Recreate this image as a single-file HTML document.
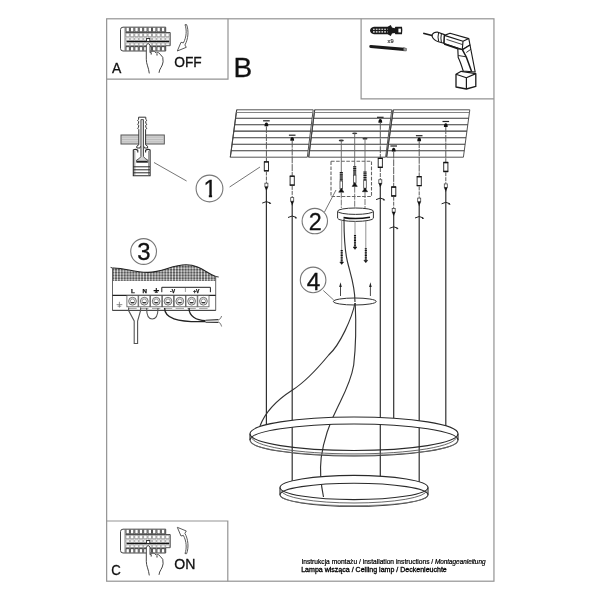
<!DOCTYPE html>
<html lang="pl"><head><meta charset="utf-8"><title>Instrukcja montażu</title>
<style>html,body{margin:0;padding:0;background:#fff;overflow:hidden}svg{display:block;filter:blur(0.45px)}</style></head>
<body><svg width="600" height="600" viewBox="0 0 600 600">
<rect width="600" height="600" fill="#fff"/>
<g fill="none" stroke="#939393" stroke-width="1.2">
<rect x="106.65" y="18.8" width="387.3" height="562.4"/>
<path d="M106.65 79.1H228V18.8"/>
<path d="M361.1 18.8V98.9H493.95"/>
<path d="M106.65 521H227.8V581.2"/>
</g>
<g font-family="'Liberation Sans', Arial, sans-serif" fill="#111" stroke="#111" stroke-width="0.3">
<text transform="translate(111.9 72.8) scale(0.93 1)" font-size="15">A</text>
<text transform="translate(174.2 67.15) scale(0.955 1)" font-size="14.4">OFF</text>
<text x="233.4" y="76.9" font-size="28">B</text>
<text transform="translate(111.3 575.3) scale(0.93 1)" font-size="14.2">C</text>
<text x="174.3" y="568.7" font-size="14.1">ON</text>
</g>
<g fill="none">
<path d="M236.7 109.8H313.2L307.3 157.2H230.3Z" fill="#fff" stroke="#555" stroke-width="1"/><path d="M230.3 157.2L236.7 109.8" stroke="#444" stroke-width="1.1"/><path d="M236.3 112.5H312.9" stroke="#777" stroke-width="0.9"/><path d="M235.6 118.3H312.1" stroke="#3a3a3a" stroke-width="1.1"/><path d="M234.7 124.8H311.3" stroke="#3a3a3a" stroke-width="1.1"/><path d="M233.8 131.1H310.5" stroke="#3a3a3a" stroke-width="1.1"/><path d="M232.9 137.8H309.7" stroke="#3a3a3a" stroke-width="1.1"/><path d="M232.0 144.3H308.9" stroke="#3a3a3a" stroke-width="1.1"/><path d="M231.2 150.8H308.1" stroke="#3a3a3a" stroke-width="1.1"/>
<path d="M314.7 109.8H391.8L385.6 157.2H308.7Z" fill="#fff" stroke="#555" stroke-width="1"/><path d="M308.7 157.2L314.7 109.8" stroke="#444" stroke-width="1.1"/><path d="M314.4 112.5H391.4" stroke="#777" stroke-width="0.9"/><path d="M313.6 118.3H390.7" stroke="#3a3a3a" stroke-width="1.1"/><path d="M312.8 124.8H389.8" stroke="#3a3a3a" stroke-width="1.1"/><path d="M312.0 131.1H389.0" stroke="#3a3a3a" stroke-width="1.1"/><path d="M311.2 137.8H388.1" stroke="#3a3a3a" stroke-width="1.1"/><path d="M310.3 144.3H387.3" stroke="#3a3a3a" stroke-width="1.1"/><path d="M309.5 150.8H386.4" stroke="#3a3a3a" stroke-width="1.1"/>
<path d="M393.2 109.8H469.8L463.4 157.2H386.6Z" fill="#fff" stroke="#555" stroke-width="1"/><path d="M386.6 157.2L393.2 109.8" stroke="#444" stroke-width="1.1"/><path d="M392.8 112.5H469.4" stroke="#777" stroke-width="0.9"/><path d="M392.0 118.3H468.7" stroke="#3a3a3a" stroke-width="1.1"/><path d="M391.1 124.8H467.8" stroke="#3a3a3a" stroke-width="1.1"/><path d="M390.2 131.1H466.9" stroke="#3a3a3a" stroke-width="1.1"/><path d="M389.3 137.8H466.0" stroke="#3a3a3a" stroke-width="1.1"/><path d="M388.4 144.3H465.1" stroke="#3a3a3a" stroke-width="1.1"/><path d="M387.5 150.8H464.3" stroke="#3a3a3a" stroke-width="1.1"/>
</g>
<g id="wires">
<path d="M263.09999999999997 120.8H269.7" stroke="#222" stroke-width="1.2" fill="none"/>
<path d="M264.5 126.3Q264.5 122.6 266.4 122.6Q268.29999999999995 122.6 268.29999999999995 126.3Z" fill="#111"/>
<path d="M266.4 126.3V161.5" stroke="#5a5a5a" stroke-width="1" stroke-dasharray="7 0.8" fill="none"/>
<rect x="264.29999999999995" y="161.9" width="4.2" height="8.8" fill="#fff" stroke="#333" stroke-width="1"/>
<path d="M264.0 161.8h4.8M264.0 170.8h4.8" stroke="#111" stroke-width="1.3" fill="none"/>
<path d="M266.4 171.5V183.0" stroke="#5a5a5a" stroke-width="1" stroke-dasharray="4 1" fill="none"/>
<rect x="264.9" y="183.2" width="3" height="3.6" fill="#fff" stroke="#444" stroke-width="0.8"/>
<path d="M264.7 186.8L266.4 191.5L268.09999999999997 186.8Z" fill="#111"/>
<path d="M266.4 189.5V425.0" stroke="#303030" stroke-width="1.2" fill="none"/>
<path d="M262.2 203.1Q266.4 200.1 270.59999999999997 203.1" stroke="#222" stroke-width="1" fill="none"/>
<path d="M271.4 203.8l-2.4 -1.8l0.3 2z" fill="#222"/>
<path d="M288.9 135.2H295.5" stroke="#222" stroke-width="1.2" fill="none"/>
<path d="M290.3 140.7Q290.3 137.0 292.2 137.0Q294.09999999999997 137.0 294.09999999999997 140.7Z" fill="#111"/>
<path d="M292.2 140.7V175.89999999999998" stroke="#5a5a5a" stroke-width="1" stroke-dasharray="7 0.8" fill="none"/>
<rect x="290.09999999999997" y="176.29999999999998" width="4.2" height="8.8" fill="#fff" stroke="#333" stroke-width="1"/>
<path d="M289.8 176.2h4.8M289.8 185.2h4.8" stroke="#111" stroke-width="1.3" fill="none"/>
<path d="M292.2 185.89999999999998V197.39999999999998" stroke="#5a5a5a" stroke-width="1" stroke-dasharray="4 1" fill="none"/>
<rect x="290.7" y="197.59999999999997" width="3" height="3.6" fill="#fff" stroke="#444" stroke-width="0.8"/>
<path d="M290.5 201.2L292.2 205.89999999999998L293.9 201.2Z" fill="#111"/>
<path d="M292.2 203.89999999999998V481.1" stroke="#303030" stroke-width="1.2" fill="none"/>
<path d="M288.0 217.49999999999997Q292.2 214.49999999999997 296.4 217.49999999999997" stroke="#222" stroke-width="1" fill="none"/>
<path d="M297.2 218.2l-2.4 -1.8l0.3 2z" fill="#222"/>
<path d="M377.0 117.3H383.6" stroke="#222" stroke-width="1.2" fill="none"/>
<path d="M378.40000000000003 122.8Q378.40000000000003 119.1 380.3 119.1Q382.2 119.1 382.2 122.8Z" fill="#111"/>
<path d="M380.3 122.8V158.0" stroke="#5a5a5a" stroke-width="1" stroke-dasharray="7 0.8" fill="none"/>
<rect x="378.2" y="158.4" width="4.2" height="8.8" fill="#fff" stroke="#333" stroke-width="1"/>
<path d="M377.90000000000003 158.3h4.8M377.90000000000003 167.3h4.8" stroke="#111" stroke-width="1.3" fill="none"/>
<path d="M380.3 168.0V179.5" stroke="#5a5a5a" stroke-width="1" stroke-dasharray="4 1" fill="none"/>
<rect x="378.8" y="179.7" width="3" height="3.6" fill="#fff" stroke="#444" stroke-width="0.8"/>
<path d="M378.6 183.3L380.3 188.0L382.0 183.3Z" fill="#111"/>
<path d="M380.3 186.0V476.5" stroke="#303030" stroke-width="1.2" fill="none"/>
<path d="M376.1 199.6Q380.3 196.6 384.5 199.6" stroke="#222" stroke-width="1" fill="none"/>
<path d="M385.3 200.3l-2.4 -1.8l0.3 2z" fill="#222"/>
<path d="M390.4 146.0H397.0" stroke="#222" stroke-width="1.2" fill="none"/>
<path d="M391.8 151.5Q391.8 147.8 393.7 147.8Q395.59999999999997 147.8 395.59999999999997 151.5Z" fill="#111"/>
<path d="M393.7 151.5V186.7" stroke="#5a5a5a" stroke-width="1" stroke-dasharray="7 0.8" fill="none"/>
<rect x="391.59999999999997" y="187.1" width="4.2" height="8.8" fill="#fff" stroke="#333" stroke-width="1"/>
<path d="M391.3 187.0h4.8M391.3 196.0h4.8" stroke="#111" stroke-width="1.3" fill="none"/>
<path d="M393.7 196.7V208.2" stroke="#5a5a5a" stroke-width="1" stroke-dasharray="4 1" fill="none"/>
<rect x="392.2" y="208.39999999999998" width="3" height="3.6" fill="#fff" stroke="#444" stroke-width="0.8"/>
<path d="M392.0 212.0L393.7 216.7L395.4 212.0Z" fill="#111"/>
<path d="M393.7 214.7V418.6" stroke="#303030" stroke-width="1.2" fill="none"/>
<path d="M389.5 228.29999999999998Q393.7 225.29999999999998 397.9 228.29999999999998" stroke="#222" stroke-width="1" fill="none"/>
<path d="M398.7 229.0l-2.4 -1.8l0.3 2z" fill="#222"/>
<path d="M415.9 135.7H422.5" stroke="#222" stroke-width="1.2" fill="none"/>
<path d="M417.3 141.2Q417.3 137.5 419.2 137.5Q421.09999999999997 137.5 421.09999999999997 141.2Z" fill="#111"/>
<path d="M419.2 141.2V176.39999999999998" stroke="#5a5a5a" stroke-width="1" stroke-dasharray="7 0.8" fill="none"/>
<rect x="417.09999999999997" y="176.79999999999998" width="4.2" height="8.8" fill="#fff" stroke="#333" stroke-width="1"/>
<path d="M416.8 176.7h4.8M416.8 185.7h4.8" stroke="#111" stroke-width="1.3" fill="none"/>
<path d="M419.2 186.39999999999998V197.89999999999998" stroke="#5a5a5a" stroke-width="1" stroke-dasharray="4 1" fill="none"/>
<rect x="417.7" y="198.09999999999997" width="3" height="3.6" fill="#fff" stroke="#444" stroke-width="0.8"/>
<path d="M417.5 201.7L419.2 206.39999999999998L420.9 201.7Z" fill="#111"/>
<path d="M419.2 204.39999999999998V482.1" stroke="#303030" stroke-width="1.2" fill="none"/>
<path d="M415.0 217.99999999999997Q419.2 214.99999999999997 423.4 217.99999999999997" stroke="#222" stroke-width="1" fill="none"/>
<path d="M424.2 218.7l-2.4 -1.8l0.3 2z" fill="#222"/>
<path d="M442.5 121.5H449.1" stroke="#222" stroke-width="1.2" fill="none"/>
<path d="M443.90000000000003 127Q443.90000000000003 123.3 445.8 123.3Q447.7 123.3 447.7 127Z" fill="#111"/>
<path d="M445.8 127V162.2" stroke="#5a5a5a" stroke-width="1" stroke-dasharray="7 0.8" fill="none"/>
<rect x="443.7" y="162.6" width="4.2" height="8.8" fill="#fff" stroke="#333" stroke-width="1"/>
<path d="M443.40000000000003 162.5h4.8M443.40000000000003 171.5h4.8" stroke="#111" stroke-width="1.3" fill="none"/>
<path d="M445.8 172.2V183.7" stroke="#5a5a5a" stroke-width="1" stroke-dasharray="4 1" fill="none"/>
<rect x="444.3" y="183.89999999999998" width="3" height="3.6" fill="#fff" stroke="#444" stroke-width="0.8"/>
<path d="M444.1 187.5L445.8 192.2L447.5 187.5Z" fill="#111"/>
<path d="M445.8 190.2V426.2" stroke="#303030" stroke-width="1.2" fill="none"/>
<path d="M441.6 203.79999999999998Q445.8 200.79999999999998 450.0 203.79999999999998" stroke="#222" stroke-width="1" fill="none"/>
<path d="M450.8 204.5l-2.4 -1.8l0.3 2z" fill="#222"/>
</g>
<g id="dbox">
<rect x="331" y="161.2" width="40.5" height="35.3" fill="none" stroke="#666" stroke-width="1.1" stroke-dasharray="3.6 1.5"/>
<ellipse cx="341.3" cy="140.5" rx="2.6" ry="0.9" fill="#333"/>
<path d="M341.3 140.5V172" stroke="#666" stroke-width="0.9" fill="none"/>
<rect x="339.8" y="172" width="3" height="9" fill="#999"/>
<path d="M341.3 172v9" stroke="#1a1a1a" stroke-width="3" stroke-dasharray="1 0.8" fill="none"/>
<rect x="340.0" y="181" width="2.6" height="8" fill="#fff" stroke="#444" stroke-width="0.8"/>
<path d="M338.7 192.2L341.3 188.2L343.90000000000003 192.2Z" fill="#111" stroke="#111" stroke-width="0.5"/>
<path d="M341.3 192.5V208" stroke="#666" stroke-width="0.9" stroke-dasharray="6 1" fill="none"/>
<ellipse cx="354.7" cy="133.3" rx="2.6" ry="0.9" fill="#333"/>
<path d="M354.7 133.3V166.2" stroke="#666" stroke-width="0.9" fill="none"/>
<rect x="353.2" y="166.2" width="3" height="9" fill="#999"/>
<path d="M354.7 166.2v9" stroke="#1a1a1a" stroke-width="3" stroke-dasharray="1 0.8" fill="none"/>
<rect x="353.4" y="175.2" width="2.6" height="8" fill="#fff" stroke="#444" stroke-width="0.8"/>
<path d="M352.09999999999997 186.39999999999998L354.7 182.39999999999998L357.3 186.39999999999998Z" fill="#111" stroke="#111" stroke-width="0.5"/>
<path d="M354.7 186.7V208" stroke="#666" stroke-width="0.9" stroke-dasharray="6 1" fill="none"/>
<ellipse cx="365" cy="138.7" rx="2.6" ry="0.9" fill="#333"/>
<path d="M365 138.7V171.5" stroke="#666" stroke-width="0.9" fill="none"/>
<rect x="363.5" y="171.5" width="3" height="9" fill="#999"/>
<path d="M365 171.5v9" stroke="#1a1a1a" stroke-width="3" stroke-dasharray="1 0.8" fill="none"/>
<rect x="363.7" y="180.5" width="2.6" height="8" fill="#fff" stroke="#444" stroke-width="0.8"/>
<path d="M362.4 191.7L365 187.7L367.6 191.7Z" fill="#111" stroke="#111" stroke-width="0.5"/>
<path d="M365 192.0V208" stroke="#666" stroke-width="0.9" stroke-dasharray="6 1" fill="none"/>
</g>
<g id="canopy">
<path d="M337.6 211.2V218.2A17.9 3.2 0 0 0 373.4 218.2V211.2" fill="#fff" stroke="#333" stroke-width="1"/>
<ellipse cx="355.5" cy="211.2" rx="17.9" ry="3.2" fill="#fff" stroke="#333" stroke-width="1"/>
<path d="M343.5 217.6Q356 219.6 370 217.3" stroke="#111" stroke-width="1.6" fill="none"/>
<path d="M355 221V235" stroke="#777" stroke-width="0.8" fill="none"/>
<path d="M355 235v12" stroke="#888" stroke-width="1.6" fill="none"/>
<path d="M355 235v12" stroke="#111" stroke-width="2.1" stroke-dasharray="1 0.7" fill="none"/>
<path d="M353.1 247h3.8l-1.9 2.4z" fill="#111" stroke="#111" stroke-width="0.5"/>
<path d="M341.7 221V250" stroke="#777" stroke-width="0.8" fill="none"/>
<path d="M341.7 250v12" stroke="#888" stroke-width="1.6" fill="none"/>
<path d="M341.7 250v12" stroke="#111" stroke-width="2.1" stroke-dasharray="1 0.7" fill="none"/>
<path d="M339.8 262h3.8l-1.9 2.4z" fill="#111" stroke="#111" stroke-width="0.5"/>
<path d="M365.8 221V248.3" stroke="#777" stroke-width="0.8" fill="none"/>
<path d="M365.8 248.3v12" stroke="#888" stroke-width="1.6" fill="none"/>
<path d="M365.8 248.3v12" stroke="#111" stroke-width="2.1" stroke-dasharray="1 0.7" fill="none"/>
<path d="M363.90000000000003 260.3h3.8l-1.9 2.4z" fill="#111" stroke="#111" stroke-width="0.5"/>
</g>
<g id="plate4">
<path d="M340.5 296V286" stroke="#333" stroke-width="0.9" fill="none"/>
<path d="M339.2 287L340.5 282.3L341.8 287Z" fill="#222"/>
<path d="M370.4 296V286" stroke="#333" stroke-width="0.9" fill="none"/>
<path d="M369.09999999999997 287L370.4 282.3L371.7 287Z" fill="#222"/>
<ellipse cx="354.8" cy="301.5" rx="21.4" ry="3.5" fill="none" stroke="#333" stroke-width="1"/>
</g>
<g id="cable" fill="none" stroke="#333" stroke-width="1.15">
<path d="M344 219C344 235 344 248 347.5 262C351 276 355 286 355 302"/>
<path d="M355 303C352 318 340 345 328.7 355C318 368 305 382 292.5 390C280 398 266 410 260 426"/>
<path d="M355.2 303C356 320 356 345 353.7 365C351 382 342 398 337.5 407.5C330 422 324 438 321.2 457.5C320 468 321 485 323.5 497"/>
</g>
<g id="rings">
<path d="M250 433.75A104 16.75 0 0 1 458 433.75V440.0A104 16.0 0 0 0 250 440.0Z" fill="#fff" stroke="none"/><ellipse cx="354" cy="440.0" rx="104" ry="16.0" fill="none" stroke="#2a2a2a" stroke-width="1.1"/><ellipse cx="354" cy="433.75" rx="104" ry="16.75" fill="none" stroke="#2a2a2a" stroke-width="1.1"/><path d="M251.5 436.75A102.5 17.15 0 0 0 456.5 436.75" fill="none" stroke="#555" stroke-width="0.9"/><path d="M250.5 441.0A103.5 14.4 0 0 0 457.5 441.0" fill="none" stroke="#777" stroke-width="0.8"/><path d="M250 433.75V440.0M458 433.75V440.0" stroke="#2a2a2a" stroke-width="1.1" fill="none"/>
<path d="M280 487.5A74 12.1 0 0 1 428 487.5V494.8A74 11.5 0 0 0 280 494.8Z" fill="#fff" stroke="none"/><ellipse cx="354" cy="494.8" rx="74" ry="11.5" fill="none" stroke="#2a2a2a" stroke-width="1.1"/><ellipse cx="354" cy="487.5" rx="74" ry="12.1" fill="none" stroke="#2a2a2a" stroke-width="1.1"/><path d="M281.5 490.5A72.5 12.5 0 0 0 426.5 490.5" fill="none" stroke="#555" stroke-width="0.9"/><path d="M280.5 495.8A73.5 9.9 0 0 0 427.5 495.8" fill="none" stroke="#777" stroke-width="0.8"/><path d="M280 487.5V494.8M428 487.5V494.8" stroke="#2a2a2a" stroke-width="1.1" fill="none"/>
</g>
<g font-family="'Liberation Sans', Arial, sans-serif" fill="#111" stroke="#111" stroke-width="0.3" text-anchor="middle">
<circle cx="209.5" cy="188.5" r="13.4" fill="#fff" stroke="#777" stroke-width="1.1"/>
<text x="210.1" y="197.2" font-size="23.9">1</text>
<circle cx="314.8" cy="221.1" r="12.7" fill="#fff" stroke="#777" stroke-width="1.1"/>
<text x="315.2" y="229.7" font-size="23.3">2</text>
<circle cx="143.6" cy="251.5" r="12.9" fill="#fff" stroke="#777" stroke-width="1.1"/>
<text x="144.0" y="260.4" font-size="23.9">3</text>
<circle cx="313.1" cy="279.9" r="12.8" fill="#fff" stroke="#777" stroke-width="1.1"/>
<text x="313.5" y="289.7" font-size="24.4">4</text>
</g>
<rect x="203.5" y="194.2" width="5.3" height="4" fill="#fff"/><rect x="212.1" y="194.2" width="4.5" height="4" fill="#fff"/>
<g fill="none" stroke="#666" stroke-width="0.9">
<path d="M154 162.5L186.6 181"/>
<path d="M229.6 187L260 167"/>
<path d="M324.5 212L336 190"/>
<path d="M323.3 290.5L333.7 300"/>
</g>
<g transform="translate(0 1.0) scale(1 0.988)">
<path d="M123 26.5H165.7V31.9H170.2V45.2H165.7V50.6H123Q120.5 50.6 120.5 48V29Q120.5 26.5 123 26.5Z" fill="#fff" stroke="#444" stroke-width="1"/>
<path d="M125 26.8V50.3" stroke="#666" stroke-width="0.8" fill="none"/>
<path d="M126.00 27V31.2H129.40V27M130.42 27V31.2H133.82V27M134.84 27V31.2H138.24V27M139.26 27V31.2H142.66V27M143.68 27V31.2H147.08V27M148.10 27V31.2H151.50V27M152.52 27V31.2H155.92V27M156.94 27V31.2H160.34V27M161.36 27V31.2H164.76V27M126.00 50.2V46.2H129.40V50.2M130.42 50.2V46.2H133.82V50.2M134.84 50.2V46.2H138.24V50.2M139.26 50.2V46.2H142.66V50.2M143.68 50.2V46.2H147.08V50.2M148.10 50.2V46.2H151.50V50.2M152.52 50.2V46.2H155.92V50.2M156.94 50.2V46.2H160.34V50.2M161.36 50.2V46.2H164.76V50.2" fill="none" stroke="#333" stroke-width="0.85"/>
<path d="M125.5 31.9H165.7M125.5 45.6H165.7" stroke="#333" stroke-width="0.9" fill="none"/>
<path d="M125.90 32.6h3.5v3.6h-3.5zM130.32 32.6h3.5v3.6h-3.5zM134.74 32.6h3.5v3.6h-3.5zM139.16 32.6h3.5v3.6h-3.5zM143.58 32.6h3.5v3.6h-3.5zM148.00 32.6h3.5v3.6h-3.5zM152.42 32.6h3.5v3.6h-3.5zM156.84 32.6h3.5v3.6h-3.5zM161.26 32.6h3.5v3.6h-3.5zM165.68 32.6h3.5v3.6h-3.5z" fill="none" stroke="#777" stroke-width="0.7"/>
<path d="M125.90 37.3h3.7v2.5h-3.7zM125.90 42.5h3.7v2.5h-3.7zM130.32 37.3h3.7v2.5h-3.7zM130.32 42.5h3.7v2.5h-3.7zM134.74 37.3h3.7v2.5h-3.7zM134.74 42.5h3.7v2.5h-3.7zM139.16 37.3h3.7v2.5h-3.7zM139.16 42.5h3.7v2.5h-3.7zM143.58 37.3h3.7v2.5h-3.7zM143.58 42.5h3.7v2.5h-3.7zM148.00 37.3h3.7v2.5h-3.7zM148.00 42.5h3.7v2.5h-3.7zM152.42 37.3h3.7v2.5h-3.7zM152.42 42.5h3.7v2.5h-3.7zM156.84 37.3h3.7v2.5h-3.7zM156.84 42.5h3.7v2.5h-3.7zM161.26 37.3h3.7v2.5h-3.7zM161.26 42.5h3.7v2.5h-3.7zM165.68 37.3h3.7v2.5h-3.7zM165.68 42.5h3.7v2.5h-3.7z" fill="none" stroke="#888" stroke-width="0.6"/>
<path d="M126.5 41.1H169.3" stroke="#111" stroke-width="1.5" fill="none"/>
<rect x="146.6" y="38" width="3.2" height="3" fill="#fff" stroke="#222" stroke-width="0.9"/>
<path d="M149.3 73.3C148.6 67 146.3 64 146.3 59V44.5Q148.2 41.5 150 44.5V52.3Q153 49 156.2 52.6Q158.6 51 160.7 54.5Q163.6 56 163.1 61.5C162.6 66.5 159.2 68.5 159 72.7" fill="#fff" stroke="#444" stroke-width="1"/>
<path d="M151.2 52v2.2M157 53.6v1.6" stroke="#333" stroke-width="1" fill="none"/>
</g>
<g transform="translate(0 503.0) scale(1 0.988)">
<path d="M123 26.5H165.7V31.9H170.2V45.2H165.7V50.6H123Q120.5 50.6 120.5 48V29Q120.5 26.5 123 26.5Z" fill="#fff" stroke="#444" stroke-width="1"/>
<path d="M125 26.8V50.3" stroke="#666" stroke-width="0.8" fill="none"/>
<path d="M126.00 27V31.2H129.40V27M130.42 27V31.2H133.82V27M134.84 27V31.2H138.24V27M139.26 27V31.2H142.66V27M143.68 27V31.2H147.08V27M148.10 27V31.2H151.50V27M152.52 27V31.2H155.92V27M156.94 27V31.2H160.34V27M161.36 27V31.2H164.76V27M126.00 50.2V46.2H129.40V50.2M130.42 50.2V46.2H133.82V50.2M134.84 50.2V46.2H138.24V50.2M139.26 50.2V46.2H142.66V50.2M143.68 50.2V46.2H147.08V50.2M148.10 50.2V46.2H151.50V50.2M152.52 50.2V46.2H155.92V50.2M156.94 50.2V46.2H160.34V50.2M161.36 50.2V46.2H164.76V50.2" fill="none" stroke="#333" stroke-width="0.85"/>
<path d="M125.5 31.9H165.7M125.5 45.6H165.7" stroke="#333" stroke-width="0.9" fill="none"/>
<path d="M125.90 32.6h3.5v3.6h-3.5zM130.32 32.6h3.5v3.6h-3.5zM134.74 32.6h3.5v3.6h-3.5zM139.16 32.6h3.5v3.6h-3.5zM143.58 32.6h3.5v3.6h-3.5zM148.00 32.6h3.5v3.6h-3.5zM152.42 32.6h3.5v3.6h-3.5zM156.84 32.6h3.5v3.6h-3.5zM161.26 32.6h3.5v3.6h-3.5zM165.68 32.6h3.5v3.6h-3.5z" fill="none" stroke="#777" stroke-width="0.7"/>
<path d="M125.90 37.3h3.7v2.5h-3.7zM125.90 42.5h3.7v2.5h-3.7zM130.32 37.3h3.7v2.5h-3.7zM130.32 42.5h3.7v2.5h-3.7zM134.74 37.3h3.7v2.5h-3.7zM134.74 42.5h3.7v2.5h-3.7zM139.16 37.3h3.7v2.5h-3.7zM139.16 42.5h3.7v2.5h-3.7zM143.58 37.3h3.7v2.5h-3.7zM143.58 42.5h3.7v2.5h-3.7zM148.00 37.3h3.7v2.5h-3.7zM148.00 42.5h3.7v2.5h-3.7zM152.42 37.3h3.7v2.5h-3.7zM152.42 42.5h3.7v2.5h-3.7zM156.84 37.3h3.7v2.5h-3.7zM156.84 42.5h3.7v2.5h-3.7zM161.26 37.3h3.7v2.5h-3.7zM161.26 42.5h3.7v2.5h-3.7zM165.68 37.3h3.7v2.5h-3.7zM165.68 42.5h3.7v2.5h-3.7z" fill="none" stroke="#888" stroke-width="0.6"/>
<path d="M126.5 41.1H169.3" stroke="#111" stroke-width="1.5" fill="none"/>
<rect x="146.6" y="38" width="3.2" height="3" fill="#fff" stroke="#222" stroke-width="0.9"/>
<path d="M149.3 73.3C148.6 67 146.3 64 146.3 59V44.5Q148.2 41.5 150 44.5V52.3Q153 49 156.2 52.6Q158.6 51 160.7 54.5Q163.6 56 163.1 61.5C162.6 66.5 159.2 68.5 159 72.7" fill="#fff" stroke="#444" stroke-width="1"/>
<path d="M151.2 52v2.2M157 53.6v1.6" stroke="#333" stroke-width="1" fill="none"/>
</g>
<path d="M185 24.7C186.9 30 186.6 37 183.4 42.9L181 42.3L177.3 51L186.3 47.3L184.9 45C188.2 39 189 31 186.6 24.6Z" fill="#fff" stroke="#5a5a5a" stroke-width="1" stroke-linejoin="round"/>
<path d="M185 24.7C186.9 30 186.6 37 183.4 42.9L181 42.3L177.3 51L186.3 47.3L184.9 45C188.2 39 189 31 186.6 24.6Z" transform="translate(0 578.3) scale(1 -1)" fill="#fff" stroke="#5a5a5a" stroke-width="1" stroke-linejoin="round"/>
<g id="hardware">
<path d="M370 30.5Q370.4 27.3 374 26.8H387.6L390.8 24.9L392 27.6L394.6 28.2L395.4 26.8H402Q402.8 30.5 402 34.2H395.4L394.6 32.9L392 33.5L390.8 36L387.6 34.2H374Q370.4 33.7 370 30.5Z" fill="#1a1a1a"/>
<path d="M373 29.2h14.5M373 31.9h14.5" stroke="#fff" stroke-width="1.1" stroke-dasharray="1.7 1.1" fill="none"/>
<rect x="398.4" y="28.6" width="2.5" height="3.8" fill="#fff"/>
<text x="387.6" y="42.7" font-family="'Liberation Sans', Arial, sans-serif" font-size="5.6" fill="#333" stroke="#333" stroke-width="0.2">x9</text>
<path d="M370.8 46.5L404 49.4" stroke="#1a1a1a" stroke-width="3.1" stroke-linecap="round" fill="none"/>
<path d="M403.6 47.6L406.6 48.5L406.3 51L403.3 50.8Z" fill="#999" stroke="#444" stroke-width="0.5"/>
<g fill="#fff" stroke="#1a1a1a" stroke-width="1.15" stroke-linejoin="round">
<path d="M423.2 33.2L433 35.8" stroke-width="1.7"/>
<path d="M432.2 34.6Q433.5 32.2 437.2 32L444.4 34.6L443.8 43.3L438.5 41.8Q433.5 40 432.2 36.6Z"/>
<path d="M438.6 32.6Q437.4 37 438.7 41.7M441.4 33.6Q440.4 38 441.4 42.6" fill="none" stroke-width="1"/>
<path d="M444.4 35.4L450 33.3L468.8 38.6L470 45L462.5 49.6L444.2 43.8Z"/>
<path d="M444.4 35.4L463 41.3L468.8 38.6M463 41.3L462.3 49.4" fill="none"/>
<path d="M446.5 39.4L462.6 44.6" fill="none" stroke-width="0.8"/>
<path d="M444.2 43.9L458 48.6" fill="none" stroke-width="1.7"/>
<path d="M457.8 48.6L462.5 49.8L470 45L475.2 72L463.2 71Q460.5 62 458.2 57.5Z"/>
<path d="M462.5 49.8L466.3 57L471.6 71.5" fill="none" stroke-width="1.5"/>
<path d="M458.3 55.5L466 56.8M466.3 52.5L470.8 49.3" fill="none" stroke-width="0.9"/>
<path d="M456 74.2L461.2 71.3L475.8 73.6V86.4L466.4 89L456 87Z" stroke-width="1.3"/>
<path d="M456 74.2L466.4 77.8L475.8 73.6M466.4 77.8V89" fill="none" stroke-width="1.2"/>
</g>
</g>
<g id="anchor">
<rect x="121" y="135" width="43.3" height="9" fill="#d2d2d2" stroke="#555" stroke-width="1"/>
<path d="M121.5 137.2h42M121.5 139.5h42M121.5 141.8h42" stroke="#999" stroke-width="0.7" stroke-dasharray="1 1" fill="none"/>
<path d="M138.6 117.2H145.8V119.4L146.8 120.3L145.8 121.3V123.2L146.8 124.2L145.8 125.2V127.2L146.8 128.2L145.6 129.6V144.8L147.6 146.2V148H144.4L144 146.5H140.4L140 148H136.8V146.2L138.8 144.8V129.6L137.6 128.2L138.6 127.2V125.2L137.6 124.2L138.6 123.2V121.3L137.6 120.3L138.6 119.4Z" fill="#fff" stroke="#333" stroke-width="1" stroke-linejoin="round"/>
<path d="M140.9 119.6H143.5V156.5Q144.5 158.6 147.9 160.2V162.3H136.5V160.2Q139.9 158.6 140.9 156.5Z" fill="#d4d4d4" stroke="#444" stroke-width="0.9" stroke-linejoin="round"/>
<path d="M137 161.5h10.4" stroke="#222" stroke-width="1.4" fill="none"/>
<path d="M137.8 152.4V150.3Q135.5 148.5 133.3 150V175.7H150.1V150Q147.9 148.5 145.6 150.3V152.4" fill="none" stroke="#2a2a2a" stroke-width="1.1"/>
<path d="M134.8 151V175M148.6 151V175" stroke="#666" stroke-width="0.7" fill="none"/>
<path d="M133.3 166.8H150M133.3 169.8H150M133.3 172.8H150" stroke="#2a2a2a" stroke-width="1" fill="none"/>
</g>
<defs><pattern id="dots" width="2.9" height="2.9" patternUnits="userSpaceOnUse"><rect width="2.9" height="2.9" fill="#333"/><circle cx="1.45" cy="1.45" r="1.12" fill="#fff"/></pattern></defs>
<g id="terminal">
<path d="M112.5 268C125 267.5 133 272.6 148 272.4C163 272.2 172 264.8 186 264.8C200 264.8 206 273 215.7 276.5V281H112.5Z" fill="url(#dots)"/>
<path d="M110.6 267.4L112.5 268M215.7 276.5L218.7 277" stroke="#333" stroke-width="1" fill="none"/>
<path d="M112.5 268C125 267.5 133 272.6 148 272.4C163 272.2 172 264.8 186 264.8C200 264.8 206 273 215.7 276.5" stroke="#222" stroke-width="1.1" fill="none"/>
<path d="M112.5 268V310.4H215.7V276.5" fill="none" stroke="#555" stroke-width="0.9"/>
<path d="M112.5 295.4H215.7" stroke="#222" stroke-width="1.2" fill="none"/>
<path d="M112.5 310.4H215.7" stroke="#444" stroke-width="1" fill="none"/>
<path d="M119.4 301.8V307.6M116.6 304.6H122.3M117.6 306.2H121.2" stroke="#777" stroke-width="0.8" fill="none"/>
<rect x="126.9" y="295.4" width="11.2" height="11.4" fill="#fff" stroke="#555" stroke-width="0.8"/>
<circle cx="132.5" cy="301.2" r="3.9" fill="#e8e8e8" stroke="#666" stroke-width="0.9"/>
<circle cx="132.5" cy="301.2" r="2.2" fill="#fff" stroke="#777" stroke-width="0.7"/>
<path d="M130.9 302.6h3.2" stroke="#222" stroke-width="1" fill="none"/>
<path d="M128.3 308.4h8.4" stroke="#777" stroke-width="0.7" fill="none"/>
<rect x="138.70000000000002" y="295.4" width="11.2" height="11.4" fill="#fff" stroke="#555" stroke-width="0.8"/>
<circle cx="144.3" cy="301.2" r="3.9" fill="#e8e8e8" stroke="#666" stroke-width="0.9"/>
<circle cx="144.3" cy="301.2" r="2.2" fill="#fff" stroke="#777" stroke-width="0.7"/>
<path d="M142.70000000000002 302.6h3.2" stroke="#222" stroke-width="1" fill="none"/>
<path d="M140.10000000000002 308.4h8.4" stroke="#777" stroke-width="0.7" fill="none"/>
<rect x="150.6" y="295.4" width="11.2" height="11.4" fill="#fff" stroke="#555" stroke-width="0.8"/>
<circle cx="156.2" cy="301.2" r="3.9" fill="#e8e8e8" stroke="#666" stroke-width="0.9"/>
<circle cx="156.2" cy="301.2" r="2.2" fill="#fff" stroke="#777" stroke-width="0.7"/>
<path d="M154.6 302.6h3.2" stroke="#222" stroke-width="1" fill="none"/>
<path d="M152.0 308.4h8.4" stroke="#777" stroke-width="0.7" fill="none"/>
<rect x="162.4" y="295.4" width="11.2" height="11.4" fill="#fff" stroke="#555" stroke-width="0.8"/>
<circle cx="168" cy="301.2" r="3.9" fill="#e8e8e8" stroke="#666" stroke-width="0.9"/>
<circle cx="168" cy="301.2" r="2.2" fill="#fff" stroke="#777" stroke-width="0.7"/>
<path d="M166.4 302.6h3.2" stroke="#222" stroke-width="1" fill="none"/>
<path d="M163.8 308.4h8.4" stroke="#777" stroke-width="0.7" fill="none"/>
<rect x="174.20000000000002" y="295.4" width="11.2" height="11.4" fill="#fff" stroke="#555" stroke-width="0.8"/>
<circle cx="179.8" cy="301.2" r="3.9" fill="#e8e8e8" stroke="#666" stroke-width="0.9"/>
<circle cx="179.8" cy="301.2" r="2.2" fill="#fff" stroke="#777" stroke-width="0.7"/>
<path d="M178.20000000000002 302.6h3.2" stroke="#222" stroke-width="1" fill="none"/>
<path d="M175.60000000000002 308.4h8.4" stroke="#777" stroke-width="0.7" fill="none"/>
<rect x="186.0" y="295.4" width="11.2" height="11.4" fill="#fff" stroke="#555" stroke-width="0.8"/>
<circle cx="191.6" cy="301.2" r="3.9" fill="#e8e8e8" stroke="#666" stroke-width="0.9"/>
<circle cx="191.6" cy="301.2" r="2.2" fill="#fff" stroke="#777" stroke-width="0.7"/>
<path d="M190.0 302.6h3.2" stroke="#222" stroke-width="1" fill="none"/>
<path d="M187.4 308.4h8.4" stroke="#777" stroke-width="0.7" fill="none"/>
<rect x="197.8" y="295.4" width="11.2" height="11.4" fill="#fff" stroke="#555" stroke-width="0.8"/>
<circle cx="203.4" cy="301.2" r="3.9" fill="#e8e8e8" stroke="#666" stroke-width="0.9"/>
<circle cx="203.4" cy="301.2" r="2.2" fill="#fff" stroke="#777" stroke-width="0.7"/>
<path d="M201.8 302.6h3.2" stroke="#222" stroke-width="1" fill="none"/>
<path d="M199.20000000000002 308.4h8.4" stroke="#777" stroke-width="0.7" fill="none"/>
<g font-family="'Liberation Sans', Arial, sans-serif" font-size="6.2" font-weight="bold" fill="#111" stroke="#111" stroke-width="0.25">
<text x="131" y="292.8">L</text>
<text x="142.4" y="292.8">N</text>
<text x="170" y="292.6" font-size="5">-V</text>
<text x="193.2" y="292.6" font-size="5">+V</text>
</g>
<path d="M156.3 288v4.4M153.6 290.6h5.4M154.8 292.2h3" stroke="#111" stroke-width="1.1" fill="none"/>
<path d="M161.8 292.2V287.3H210.4V292.2" stroke="#222" stroke-width="1" fill="none"/>
<path d="M185.4 287.8V292" stroke="#777" stroke-width="0.7" fill="none"/>
<g fill="none" stroke="#555" stroke-width="1.1">
<path d="M128.6 307.5V310.5L134.2 321V343.5H137.6V321L140.6 310.5V307.5"/>
<path d="M146.6 308C146.6 314 148 319 152.2 319C156.6 319 158 314 158 308"/>
<path d="M164.6 308C164.6 318 176 322.4 205.5 321.6" stroke="#222" stroke-width="1.3"/>
<path d="M189 308C189 316 196 320.5 205.5 320.6" stroke="#222" stroke-width="1.3"/>
<path d="M205.5 320.2L218.5 319.6M205.5 322.2L218.5 322.4" stroke="#333"/>
<path d="M218.5 320C220.5 319 221 317.5 221.6 316M218.5 322C220.5 323 221 324.5 221.6 326.5" stroke="#555" stroke-width="0.8"/>
</g>
</g>
<g font-family="'Liberation Sans', Arial, sans-serif" font-size="6.3" fill="#000" stroke="#000" stroke-width="0.2">
<text x="301.4" y="563.6" textLength="131.8" lengthAdjust="spacingAndGlyphs">Instrukcja montażu / installation instructions /</text>
<text x="434.9" y="563.6" textLength="50.6" lengthAdjust="spacingAndGlyphs" font-style="italic">Montageanleitung</text>
<text x="301.2" y="571.9" textLength="145.6" lengthAdjust="spacingAndGlyphs" stroke-width="0.28">Lampa wisząca / Ceiling lamp / Deckenleuchte</text>
</g>
</svg></body></html>
